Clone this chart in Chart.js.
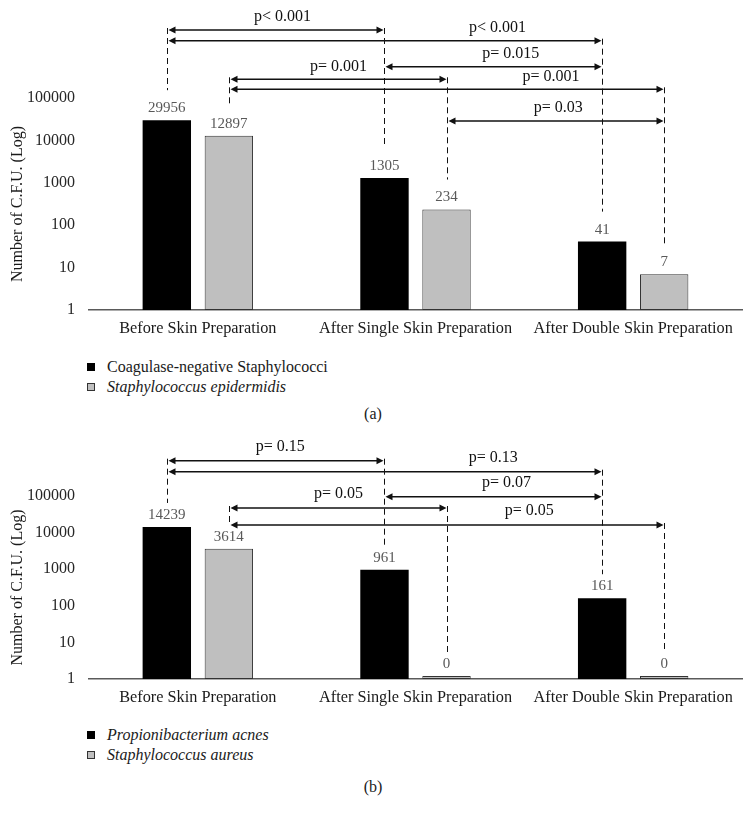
<!DOCTYPE html>
<html><head><meta charset="utf-8">
<script src="https://cdn.jsdelivr.net/npm/chart.js@4.4.1/dist/chart.umd.min.js"></script>
<style>
html,body{margin:0;padding:0;background:#fff;}
body{width:749px;height:820px;position:relative;overflow:hidden;font-family:"Liberation Serif",serif;color:#1a1a1a;}
.cv{position:absolute;left:0;}
.legend{position:absolute;left:87px;font-size:16px;line-height:20px;}
.legend .it{display:flex;align-items:center;height:20px;}
.legend .box{width:8px;height:8px;box-sizing:border-box;margin-right:12px;flex:none;}
.cap{position:absolute;left:0;width:746px;text-align:center;font-size:16px;line-height:20px;}
</style></head>
<body>
<canvas id="ca" class="cv" style="top:0" width="749" height="350"></canvas>
<div id="la" class="legend" style="top:357px"></div>
<div class="cap" style="top:404px">(a)</div>
<canvas id="cb" class="cv" style="top:420px" width="749" height="299"></canvas>
<div id="lb" class="legend" style="top:725px"></div>
<div class="cap" style="top:777px">(b)</div>
<script>
// ---------- data ----------
const categories = ['Before Skin Preparation', 'After Single Skin Preparation', 'After Double Skin Preparation'];
const yTickValues = [1, 10, 100, 1000, 10000, 100000];

// chart (a)
const cnsLabel = 'Coagulase-negative Staphylococci';
const cnsValues = [29956, 1305, 41];
const sepiLabel = 'Staphylococcus epidermidis';
const sepiValues = [12897, 234, 7];
// comparisons: [dataset, fromCategory, dataset, toCategory]
const pairsA = [[0,0,0,1],[0,0,0,2],[0,1,0,2],[1,0,1,1],[1,0,1,2],[1,1,1,2]];
const pTextA = ['p< 0.001', 'p< 0.001', 'p= 0.015', 'p= 0.001', 'p= 0.001', 'p= 0.03'];

// chart (b)
const pacLabel = 'Propionibacterium acnes';
const pacValues = [14239, 961, 161];
const sauLabel = 'Staphylococcus aureus';
const sauValues = [3614, 0, 0];
const pairsB = [[0,0,0,1],[0,0,0,2],[0,1,0,2],[1,0,1,1],[1,0,1,2]];
const pTextB = ['p= 0.15', 'p= 0.13', 'p= 0.07', 'p= 0.05', 'p= 0.05'];

// ---------- bracket layout (canvas px, not data) ----------
const levelsA = [30, 40.7, 66.7, 79.3, 89.3, 121];
const labelFracA = [0.53, 0.76, 0.58, 0.5, 0.74, 0.51];
const levelsB = [40.7, 51.7, 76.7, 88, 105];
const labelFracB = [0.52, 0.75, 0.56, 0.5, 0.69];

Chart.defaults.font.family = '"Liberation Serif", serif';
Chart.defaults.color = '#1a1a1a';

const BLACK = '#000000', GRAY = '#bfbfbf';

const valueLabels = {
  id: 'valueLabels',
  afterDatasetsDraw(chart) {
    const ctx = chart.ctx;
    ctx.save();
    ctx.font = '15px "Liberation Serif", serif';
    ctx.fillStyle = '#595959';
    ctx.textAlign = 'center';
    ctx.textBaseline = 'middle';
    chart.data.datasets.forEach((ds, di) => {
      chart.getDatasetMeta(di).data.forEach((bar, i) => {
        ctx.fillText(String(ds.rawValues[i]), bar.x, bar.y - 12);
      });
    });
    ctx.restore();
  }
};

const brackets = {
  id: 'brackets',
  afterDatasetsDraw(chart, args, opts) {
    const ctx = chart.ctx;
    const bar = (d, c) => chart.getDatasetMeta(d).data[c];
    const tops = {};
    opts.pairs.forEach((p, i) => {
      const y = opts.levels[i];
      [[p[0], p[1]], [p[2], p[3]]].forEach(([d, c]) => {
        const k = d + '_' + c;
        tops[k] = Math.min(tops[k] === undefined ? Infinity : tops[k], y);
      });
    });
    ctx.save();
    ctx.strokeStyle = '#111';
    ctx.lineWidth = 1;
    ctx.setLineDash([6, 4]);
    Object.keys(tops).forEach(k => {
      const [d, c] = k.split('_').map(Number);
      const b = bar(d, c);
      ctx.beginPath();
      ctx.moveTo(Math.round(b.x) + 0.5, tops[k] - 2);
      ctx.lineTo(Math.round(b.x) + 0.5, b.y - opts.gap);
      ctx.stroke();
    });
    ctx.setLineDash([]);
    ctx.lineWidth = 1.5;
    ctx.fillStyle = '#111';
    ctx.font = '16px "Liberation Serif", serif';
    ctx.textAlign = 'center';
    ctx.textBaseline = 'middle';
    opts.pairs.forEach((p, i) => {
      const x1 = Math.round(bar(p[0], p[1]).x) + 1.5;
      const x2 = Math.round(bar(p[2], p[3]).x) - 0.5;
      const y = opts.levels[i];
      ctx.beginPath();
      ctx.moveTo(x1 + 3, y); ctx.lineTo(x2 - 3, y); ctx.stroke();
      ctx.beginPath();
      ctx.moveTo(x1, y); ctx.lineTo(x1 + 7, y - 3.5); ctx.lineTo(x1 + 7, y + 3.5); ctx.closePath(); ctx.fill();
      ctx.beginPath();
      ctx.moveTo(x2, y); ctx.lineTo(x2 - 7, y - 3.5); ctx.lineTo(x2 - 7, y + 3.5); ctx.closePath(); ctx.fill();
      const lx = x1 + (x2 - x1) * opts.labelFrac[i];
      ctx.fillText(opts.texts[i], lx, y - opts.labelOffset);
    });
    ctx.restore();
  }
};

function makeChart(id, dsInfo, pairs, texts, levels, labelFrac, padTop, gap, labelOffset) {
  return new Chart(document.getElementById(id), {
    type: 'bar',
    data: {
      labels: categories,
      datasets: dsInfo.map(d => ({
        label: d.label,
        // a log axis cannot show 0: such bars sit on the baseline (value 1) with a minimum bar length
        data: d.values.map(v => v === 0 ? 1 : v),
        rawValues: d.values,
        italic: d.italic,
        backgroundColor: d.color,
        borderColor: d.color === BLACK ? BLACK : '#333333',
        borderWidth: d.color === BLACK ? 0 : 1,
        borderSkipped: false,
        minBarLength: 3,
        categoryPercentage: 0.57,
        barPercentage: 0.78
      }))
    },
    options: {
      responsive: false,
      animation: false,
      devicePixelRatio: 1,
      layout: { padding: { top: padTop, right: 7, left: 0, bottom: 0 } },
      plugins: {
        legend: { display: false },
        tooltip: { enabled: false },
        brackets: { pairs, texts, levels, labelFrac, gap, labelOffset }
      },
      scales: {
        x: {
          grid: { display: false },
          border: { display: true, color: '#5a5a5a', width: 1.5 },
          ticks: { font: { size: 16.3 }, color: '#1a1a1a', padding: 1, maxRotation: 0, autoSkip: false },
          afterFit: s => { s.height = 40; }
        },
        y: {
          type: 'logarithmic',
          min: 1,
          max: 100000,
          grid: { display: false },
          border: { display: false },
          afterBuildTicks: s => { s.ticks = yTickValues.map(v => ({ value: v })); },
          ticks: { font: { size: 16 }, color: '#262626', padding: 6, callback: v => String(v) },
          title: { display: true, text: 'Number of C.F.U. (Log)', font: { size: 16 }, color: '#1a1a1a', padding: { top: 8, bottom: 0 } },
          afterFit: s => { s.width = 89; }
        }
      }
    },
    plugins: [valueLabels, brackets]
  });
}

function buildLegend(chart, el) {
  chart.data.datasets.forEach(ds => {
    const row = document.createElement('div');
    row.className = 'it';
    const box = document.createElement('span');
    box.className = 'box';
    box.style.background = ds.backgroundColor;
    box.style.border = '1px solid ' + (ds.backgroundColor === BLACK ? BLACK : '#333');
    const t = document.createElement('span');
    t.textContent = ds.label;
    if (ds.italic) t.style.fontStyle = 'italic';
    row.appendChild(box); row.appendChild(t);
    el.appendChild(row);
  });
}

const chartA = makeChart('ca',
  [{ label: cnsLabel, values: cnsValues, color: BLACK, italic: false },
   { label: sepiLabel, values: sepiValues, color: GRAY, italic: true }],
  pairsA, pTextA, levelsA, labelFracA, 98, 30, 13);
const chartB = makeChart('cb',
  [{ label: pacLabel, values: pacValues, color: BLACK, italic: true },
   { label: sauLabel, values: sauValues, color: GRAY, italic: true }],
  pairsB, pTextB, levelsB, labelFracB, 76, 24, 14);
buildLegend(chartA, document.getElementById('la'));
buildLegend(chartB, document.getElementById('lb'));
</script>
</body></html>
